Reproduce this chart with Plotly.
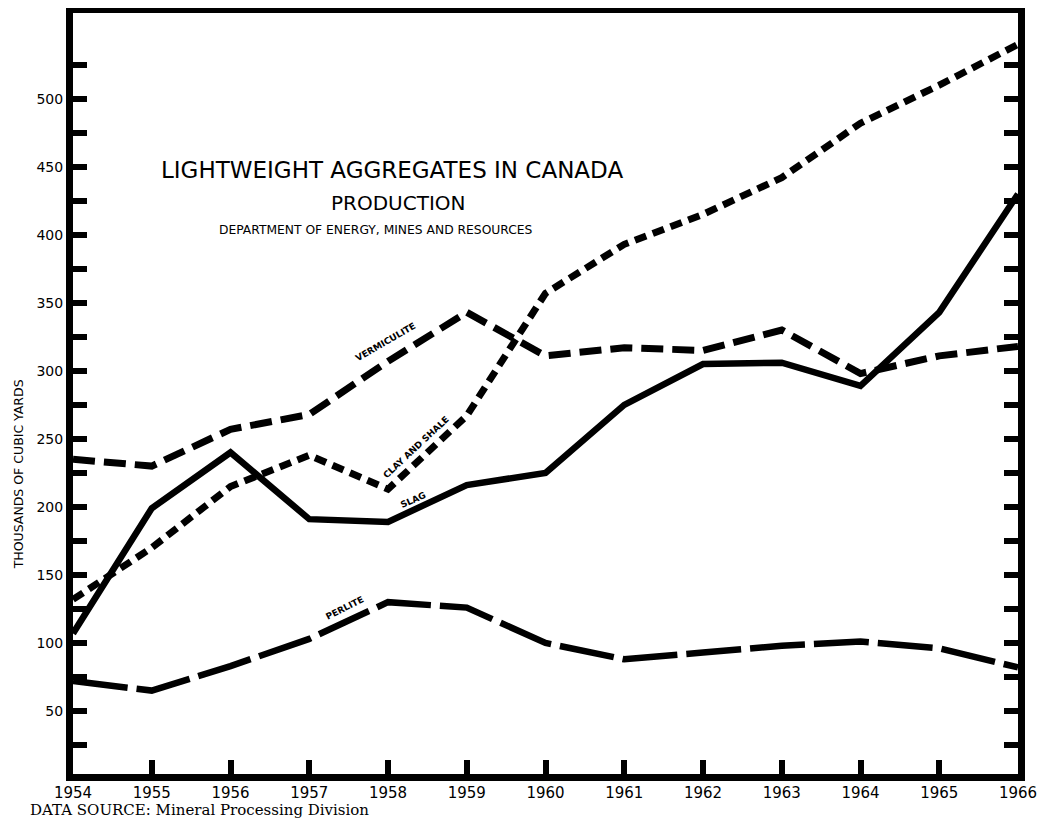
import plotly.graph_objects as go

years = list(range(1954, 1967))
vermiculite = [235, 230, 257, 268, 307, 343, 311, 317, 315, 330, 298, 311, 318]
clay_shale = [132, 170, 215, 238, 213, 267, 357, 393, 415, 442, 482, 510, 540]
slag = [107, 199, 240, 191, 189, 216, 225, 275, 305, 306, 289, 343, 430]
perlite = [72, 65, 83, 103, 130, 126, 100, 88, 93, 98, 101, 96, 82]

y_tickvals = list(range(25, 550, 25))
y_ticktext = [str(v) if (v % 50 == 0 and 50 <= v <= 500) else "" for v in y_tickvals]
x_ticktext = [str(y) for y in years]

SANS = "DejaVu Sans"
fig = go.Figure()

series = [
    ("Vermiculite", vermiculite, "22px,9px", 7),
    ("Clay and Shale", clay_shale, "12px,7px", 7),
    ("Slag", slag, "solid", 6.5),
    ("Perlite", perlite, "55px,9px", 6.5),
]
for name, vals, dash, w in series:
    fig.add_trace(go.Scatter(x=years, y=vals, mode="lines", name=name,
                             line=dict(color="black", width=w, dash=dash),
                             showlegend=False))

labels = [
    ("VERMICULITE", 1957.97, 321, -30),
    ("CLAY AND SHALE", 1958.36, 244, -43),
    ("SLAG", 1958.32, 205, -24),
    ("PERLITE", 1957.45, 126, -27),
]
for txt, x, y, ang in labels:
    fig.add_annotation(x=x, y=y, xref="x", yref="y", text=txt, showarrow=False,
                       xanchor="center", yanchor="middle", textangle=ang,
                       font=dict(family=SANS, size=9, color="black", weight="bold"))

def note(text, x, y, size, family=SANS, xanchor="center", angle=0):
    fig.add_annotation(x=x, y=y, xref="paper", yref="paper", showarrow=False,
                       xanchor=xanchor, yanchor="middle", textangle=angle, text=text,
                       font=dict(family=family, size=size, color="black"))

note("LIGHTWEIGHT AGGREGATES IN CANADA", 0.3376, 0.794, 23)
note("PRODUCTION", 0.344, 0.750, 20)
note("DEPARTMENT OF ENERGY, MINES AND RESOURCES", 0.3206, 0.715, 12.3)
note("THOUSANDS OF CUBIC YARDS", -0.058, 0.394, 12.5, angle=-90)
note("DATA SOURCE: Mineral Processing Division", -0.0476, -0.0473, 15,
     family="DejaVu Serif", xanchor="left")

fig.update_xaxes(range=[1954, 1966], tickvals=years, ticktext=x_ticktext,
                 ticks="inside", ticklen=14, tickwidth=6, tickcolor="black",
                 showline=True, linewidth=7, linecolor="black", mirror=True,
                 showgrid=False, zeroline=False, automargin=False,
                 ticklabelstandoff=-1,
                 tickfont=dict(family=SANS, size=15, color="black"))
fig.update_yaxes(range=[3.7, 563], tickvals=y_tickvals, ticktext=y_ticktext,
                 ticks="inside", ticklen=14, tickwidth=5.5, tickcolor="black",
                 showline=True, linewidth=7, linecolor="black", mirror="ticks",
                 showgrid=False, zeroline=False, automargin=False,
                 ticklabelstandoff=0,
                 tickfont=dict(family=SANS, size=14, color="black"))

fig.update_layout(width=1037, height=814, paper_bgcolor="white", plot_bgcolor="white",
                  margin=dict(l=65, r=27, t=5, b=48), showlegend=False)

fig.write_html("out.html")
